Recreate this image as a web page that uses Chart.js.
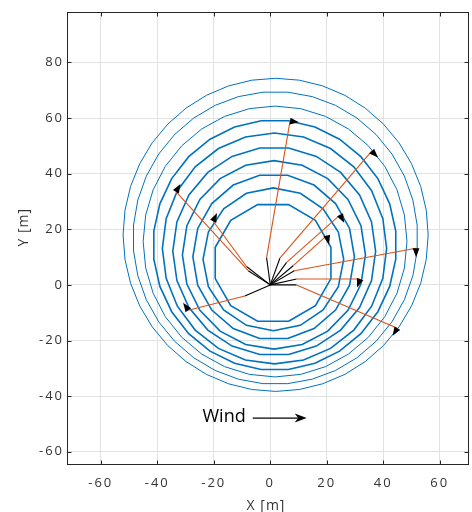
<!DOCTYPE html>
<html>
<head>
<meta charset="utf-8">
<script src="https://cdn.jsdelivr.net/npm/chart.js@4.4.1/dist/chart.umd.min.js"></script>
<style>
  html, body { margin: 0; padding: 0; background: #ffffff; }
  #wrap { width: 472px; height: 512px; }
</style>
</head>
<body>
<div id="wrap"><canvas id="chart" width="472" height="512"></canvas></div>
<script>
// Orbit rings, innermost to outermost: centre and semi-axes [m]
const ringCx = [1.0, 1.1, 1.2, 1.3, 1.4, 1.5, 1.6, 1.7, 1.8, 1.9];
const ringCy = [7.9, 9.2, 10.1, 10.8, 12.1, 13.1, 14.3, 15.6, 16.9, 18.0];
const ringRx = [21.2, 24.9, 28.6, 32.4, 35.9, 39.7, 43.1, 46.7, 50.4, 54.0];
const ringRy = [21.7, 25.7, 29.8, 33.9, 37.5, 41.5, 45.0, 48.7, 52.6, 56.3];

// Tracks: black leg from the origin to the leg start, orange leg to the leg end [m]
const legStartX = [-7.8, -8.4, -9.0, -1.3, 3.4, 5.8, 8.1, 8.5, 9.3, 9.3];
const legStartY = [5.1, 6.6, -4.0, 9.8, 9.6, 8.1, 6.9, 5.1, 2.1, 0.0];
const legEndX   = [-33.4, -20.2, -29.0, 7.0, 35.9, 24.7, 20.0, 51.6, 31.8, 45.0];
const legEndY   = [33.5, 22.9, -9.1, 58.9, 48.1, 25.2, 17.7, 13.2, 2.1, -15.6];

// Axis ticks
const xTicks = [-60, -40, -20, 0, 20, 40, 60];
const yTicks = [-60, -40, -20, 0, 20, 40, 60, 80];

// Wind annotation (text and arrow, in metres)
const windText = 'Wind';
const windTextPos = { x: -24.0, y: -47.4 };
const windArrowFrom = { x: -6.2, y: -47.9 };
const windArrowTo = { x: 12.9, y: -47.9 };

// Drawing resolution of each ring polygon
const ringSides = [12, 16, 18, 20, 22, 24, 28, 32, 36, 40];

const BLUE = '#0072BD';
const ORANGE = '#D95319';
const AXIS = '#262626';
const TEXT = '#333333';
const GRID = '#e2e2e2';
const FONT = "'Open Sans', 'DejaVu Sans', sans-serif";

function ringPoints(i) {
  const n = ringSides[i];
  const phase = -Math.PI / 2 + (i % 2 === 0 ? Math.PI / n : 0);
  const pts = [];
  for (let k = 0; k <= n; k++) {
    const a = phase + 2 * Math.PI * k / n;
    pts.push({ x: ringCx[i] + ringRx[i] * Math.cos(a), y: ringCy[i] + ringRy[i] * Math.sin(a) });
  }
  return pts;
}

const datasets = [];
ringCx.forEach((_, i) => {
  datasets.push({
    data: ringPoints(i), showLine: true, borderColor: BLUE,
    borderWidth: i < 7 ? 1.6 : 1.0, pointRadius: 0, fill: false, order: 3
  });
});
legStartX.forEach((_, i) => {
  datasets.push({
    data: [{ x: 0, y: 0 }, { x: legStartX[i], y: legStartY[i] }],
    showLine: true, borderColor: '#000000', borderWidth: 1.1, pointRadius: 0, order: 2
  });
  datasets.push({
    data: [{ x: legStartX[i], y: legStartY[i] }, { x: legEndX[i], y: legEndY[i] }],
    showLine: true, borderColor: ORANGE, borderWidth: 1.1, pointRadius: 0, order: 1
  });
});

const mean = a => a.reduce((s, v) => s + v, 0) / a.length;

const decorations = {
  id: 'decorations',
  beforeDraw(chart) {
    chart.ctx.letterSpacing = '2px';
  },
  beforeDatasetsDraw(chart) {
    chart.ctx.letterSpacing = '0px';
  },
  afterDatasetsDraw(chart) {
    const ctx = chart.ctx;
    const xs = chart.scales.x, ys = chart.scales.y;
    const area = chart.chartArea;

    // clockwise heading arrowheads at the end of each orange leg
    const cpx = xs.getPixelForValue(mean(ringCx));
    const cpy = ys.getPixelForValue(mean(ringCy));
    ctx.save();
    ctx.fillStyle = '#000000';
    legEndX.forEach((_, i) => {
      const px = xs.getPixelForValue(legEndX[i]);
      const py = ys.getPixelForValue(legEndY[i]);
      let vx = px - cpx, vy = py - cpy;
      const len = Math.hypot(vx, vy);
      vx /= len; vy /= len;
      const dx = -vy, dy = vx;           // screen-clockwise tangent
      const L = 9, W = 3.4;
      ctx.beginPath();
      ctx.moveTo(px + dx * L, py + dy * L);
      ctx.lineTo(px - dy * W, py + dx * W);
      ctx.lineTo(px + dy * W, py - dx * W);
      ctx.closePath();
      ctx.fill();
    });
    ctx.restore();

    // axes box with inward tick marks
    ctx.save();
    ctx.strokeStyle = AXIS;
    ctx.lineWidth = 1;
    const l = Math.round(area.left) - 0.5, r = Math.round(area.right) + 0.5;
    const t = Math.round(area.top) + 0.5, b = Math.round(area.bottom) + 0.5;
    ctx.strokeRect(l, t, r - l, b - t);
    ctx.beginPath();
    xTicks.forEach(v => {
      const p = Math.round(xs.getPixelForValue(v)) + 0.5;
      ctx.moveTo(p, b); ctx.lineTo(p, b - 4);
      ctx.moveTo(p, t); ctx.lineTo(p, t + 4);
    });
    yTicks.forEach(v => {
      const p = Math.round(ys.getPixelForValue(v)) + 0.5;
      ctx.moveTo(l, p); ctx.lineTo(l + 4, p);
      ctx.moveTo(r, p); ctx.lineTo(r - 4, p);
    });
    ctx.stroke();
    ctx.restore();

    // axis titles
    ctx.save();
    ctx.letterSpacing = '1px';
    ctx.fillStyle = TEXT;
    ctx.font = '14px ' + FONT;
    ctx.textAlign = 'center';
    ctx.textBaseline = 'alphabetic';
    ctx.fillText('X [m]', (area.left + area.right) / 2 - 2, 510);
    ctx.translate(28, ys.getPixelForValue(20) - 2);
    ctx.rotate(-Math.PI / 2);
    ctx.fillText('Y [m]', 0, 0);
    ctx.restore();

    // wind annotation
    ctx.save();
    ctx.letterSpacing = '0px';
    ctx.fillStyle = '#000000';
    ctx.strokeStyle = '#000000';
    ctx.font = '18px ' + FONT;
    ctx.textAlign = 'left';
    ctx.textBaseline = 'middle';
    ctx.fillText(windText, xs.getPixelForValue(windTextPos.x), ys.getPixelForValue(windTextPos.y));
    const ax0 = xs.getPixelForValue(windArrowFrom.x), ay = ys.getPixelForValue(windArrowFrom.y);
    const ax1 = xs.getPixelForValue(windArrowTo.x);
    ctx.lineWidth = 1.1;
    ctx.beginPath();
    ctx.moveTo(ax0, ay); ctx.lineTo(ax1 - 4, ay);
    ctx.stroke();
    ctx.beginPath();
    ctx.moveTo(ax1, ay);
    ctx.lineTo(ax1 - 12, ay - 4.5);
    ctx.lineTo(ax1 - 8.5, ay);
    ctx.lineTo(ax1 - 12, ay + 4.5);
    ctx.closePath();
    ctx.fill();
    ctx.restore();
  }
};

const tickFont = { family: FONT, size: 13 };

new Chart(document.getElementById('chart'), {
  type: 'scatter',
  data: { datasets },
  options: {
    responsive: false,
    animation: false,
    events: [],
    layout: { padding: { left: 0, top: 6, right: 4, bottom: 0 } },
    plugins: { legend: { display: false }, tooltip: { enabled: false } },
    scales: {
      x: {
        type: 'linear', min: -71.6, max: 70.0,
        afterBuildTicks: s => { s.ticks = xTicks.map(v => ({ value: v })); },
        afterFit: s => { s.height = 48; },
        grid: { color: GRID, lineWidth: 1, drawTicks: false },
        border: { display: false },
        ticks: { font: tickFont, color: TEXT, padding: 11, maxRotation: 0, autoSkip: false }
      },
      y: {
        type: 'linear', min: -64.4, max: 98.2,
        afterBuildTicks: s => { s.ticks = yTicks.map(v => ({ value: v })); },
        afterFit: s => { s.width = 68; },
        grid: { color: GRID, lineWidth: 1, drawTicks: false },
        border: { display: false },
        ticks: { font: tickFont, color: TEXT, padding: 4, autoSkip: false }
      }
    }
  },
  plugins: [decorations]
});
</script>
</body>
</html>
